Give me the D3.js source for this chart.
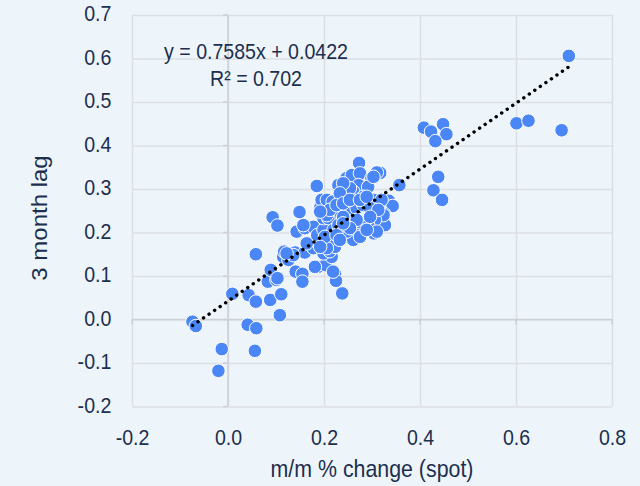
<!DOCTYPE html>
<html>
<head>
<meta charset="utf-8">
<script src="https://cdn.jsdelivr.net/npm/d3@7"></script>
<style>
  html, body { margin: 0; padding: 0; background: #eef5fa; }
  svg { display: block; font-family: "Liberation Sans", Arial, sans-serif; }
  .tick text { fill: #1c2f4f; font-size: 22px; }
  .grid line { stroke: #dcdfe3; stroke-width: 1.5; }
  .grid .domain { display: none; }
</style>
</head>
<body>
<div id="chart"></div>
<script>
'use strict';

// x: m/m % change (spot), y: 3 month lag
const spotChange = [
  0.710, 0.601, 0.626, 0.695, 0.408, 0.423, 0.448, 0.455, 0.432, 0.438,
  0.428, 0.446, 0.357, 0.317, 0.323, 0.335, 0.343, 0.325, 0.327,
  -0.074, -0.067, 0.009, 0.043, 0.058, 0.088, 0.111, 0.108, 0.041, 0.059,
  -0.013, 0.056, -0.020, 0.083, 0.101, 0.058, 0.089, 0.103, 0.115, 0.126,
  0.140, 0.160, 0.141, 0.155, 0.155, 0.187, 0.203, 0.216, 0.223, 0.225,
  0.238, 0.093, 0.103, 0.117, 0.136, 0.149, 0.185, 0.273, 0.176, 0.171,
  0.178, 0.195, 0.199, 0.212,
  0.143, 0.160, 0.178, 0.186, 0.199, 0.199, 0.192, 0.195, 0.206, 0.218,
  0.223, 0.209, 0.220, 0.208, 0.230, 0.233, 0.237, 0.230, 0.247, 0.258,
  0.275, 0.299, 0.310, 0.272, 0.261, 0.292, 0.282, 0.254, 0.244, 0.254,
  0.268, 0.282, 0.303, 0.320, 0.296, 0.310, 0.324, 0.306, 0.292, 0.282,
  0.268, 0.261, 0.247, 0.240, 0.254, 0.268, 0.304, 0.226, 0.223, 0.212,
  0.206, 0.157, 0.202, 0.164, 0.192, 0.226, 0.254, 0.240, 0.206, 0.310,
  0.122, 0.181, 0.219, 0.303, 0.254, 0.240, 0.233, 0.212, 0.192, 0.226,
  0.240, 0.254, 0.275, 0.289, 0.313, 0.296, 0.275, 0.289, 0.233, 0.240
];
const monthLag = [
  0.606, 0.451, 0.457, 0.435, 0.441, 0.432, 0.449, 0.426, 0.410, 0.328,
  0.297, 0.275, 0.309, 0.337, 0.271, 0.273, 0.261, 0.243, 0.217,
  -0.005, -0.015, 0.059, 0.056, 0.041, 0.045, 0.058, 0.010, -0.012, -0.020,
  -0.068, -0.072, -0.118, 0.087, 0.091, 0.150, 0.114, 0.095, 0.144, 0.137,
  0.154, 0.154, 0.110, 0.105, 0.087, 0.121, 0.125, 0.144, 0.105, 0.089,
  0.060, 0.235, 0.216, 0.156, 0.148, 0.247, 0.307, 0.360, 0.211, 0.175,
  0.164, 0.183, 0.152, 0.157,
  0.202, 0.210, 0.213, 0.194, 0.206, 0.233, 0.256, 0.275, 0.275, 0.271,
  0.236, 0.233, 0.206, 0.187, 0.217, 0.263, 0.286, 0.309, 0.325, 0.332,
  0.336, 0.325, 0.338, 0.309, 0.294, 0.305, 0.282, 0.279, 0.267, 0.256,
  0.256, 0.263, 0.275, 0.275, 0.256, 0.240, 0.240, 0.229, 0.217, 0.213,
  0.194, 0.183, 0.202, 0.217, 0.225, 0.229, 0.198, 0.183, 0.167, 0.183,
  0.164, 0.217, 0.190, 0.175, 0.167, 0.194, 0.210, 0.236, 0.240, 0.202,
  0.152, 0.121, 0.110, 0.328, 0.302, 0.313, 0.290, 0.252, 0.248, 0.263,
  0.267, 0.275, 0.275, 0.282, 0.252, 0.236, 0.190, 0.206, 0.183, 0.221
];
const xTicks = [-0.2, 0.0, 0.2, 0.4, 0.6, 0.8];
const yTicks = [-0.2, -0.1, 0.0, 0.1, 0.2, 0.3, 0.4, 0.5, 0.6, 0.7];
const trendSlope = 0.7585;
const trendIntercept = 0.0422;
const trendR2 = 0.702;

const width = 640, height = 486;
const margins = { top: 15, right: 28, bottom: 80, left: 132 };
const textColor = '#1c2f4f';
const squeeze = 0.89; // the reference text is horizontally condensed

const svg = d3.select('#chart').append('svg')
    .attr('width', width)
    .attr('height', height);

svg.append('rect').attr('width', width).attr('height', height).attr('fill', '#eef5fa');

const x = d3.scaleLinear()
    .domain([-0.2, 0.8])
    .range([margins.left, width - margins.right]);
const y = d3.scaleLinear()
    .domain([-0.2, 0.7])
    .range([height - margins.bottom + 0.5, margins.top]);

const fmt = d => d.toFixed(1);

// gridlines
svg.append('g').attr('class', 'grid')
    .attr('transform', `translate(0,${y(-0.2)})`)
    .call(d3.axisBottom(x).tickValues(xTicks).tickSize(-(y(-0.2) - y(0.7))).tickFormat(''));
svg.append('g').attr('class', 'grid')
    .attr('transform', `translate(${x(-0.2)},0)`)
    .call(d3.axisLeft(y).tickValues(yTicks).tickSize(-(x(0.8) - x(-0.2))).tickFormat(''));

// zero axes with small ticks
const axisColor = '#cdd1d6';
svg.append('line')
    .attr('x1', x(0)).attr('x2', x(0))
    .attr('y1', y(0.7)).attr('y2', y(-0.2))
    .attr('stroke', axisColor).attr('stroke-width', 1.5);
svg.append('line')
    .attr('x1', x(-0.2)).attr('x2', x(0.8))
    .attr('y1', y(0)).attr('y2', y(0))
    .attr('stroke', axisColor).attr('stroke-width', 1.5);
svg.selectAll('.ytickmark').data(yTicks).enter().append('line')
    .attr('x1', x(0) - 5).attr('x2', x(0))
    .attr('y1', d => y(d)).attr('y2', d => y(d))
    .attr('stroke', axisColor).attr('stroke-width', 1.5);
svg.selectAll('.xtickmark').data(xTicks).enter().append('line')
    .attr('x1', d => x(d)).attr('x2', d => x(d))
    .attr('y1', y(0)).attr('y2', y(0) + 5)
    .attr('stroke', axisColor).attr('stroke-width', 1.5);

// tick labels
const xAxis = svg.append('g')
    .attr('transform', `translate(0,${y(-0.2) + 20})`)
    .call(d3.axisBottom(x).tickValues(xTicks).tickSize(0).tickFormat(fmt));
xAxis.select('.domain').remove();

const yAxis = svg.append('g')
    .attr('transform', `translate(${x(-0.2) - 18},0)`)
    .call(d3.axisLeft(y).tickValues(yTicks).tickSize(0).tickFormat(fmt));
yAxis.select('.domain').remove();
yAxis.selectAll('.tick text').attr('dy', '0.26em');

svg.selectAll('.tick text')
    .attr('font-family', null)
    .attr('transform', `scale(${squeeze},1)`);

// axis titles
svg.append('text')
    .attr('transform', `translate(${(x(-0.2) + x(0.8)) / 2},477) scale(${squeeze},1)`)
    .attr('text-anchor', 'middle')
    .attr('fill', textColor)
    .style('font-size', '24px')
    .text('m/m % change (spot)');
svg.append('text')
    .attr('transform', `translate(47,218) rotate(-90) scale(1,${squeeze})`)
    .attr('text-anchor', 'middle')
    .attr('fill', textColor)
    .style('font-size', '24px')
    .text('3 month lag');

// points
const points = spotChange.map((v, i) => ({ x: v, y: monthLag[i] }));
svg.append('g').selectAll('circle').data(points)
    .enter().append('circle')
        .attr('cx', d => x(d.x))
        .attr('cy', d => y(d.y))
        .attr('r', 6.8)
        .attr('fill', '#4a86f6')
        .attr('stroke', '#ffffff')
        .attr('stroke-width', 1);

// trend line
const [xMin, xMax] = d3.extent(spotChange);
const trend = [xMin, xMax].map(v => ({ x: v, y: trendSlope * v + trendIntercept }));
svg.append('path')
    .attr('d', d3.line().x(d => x(d.x)).y(d => y(d.y))(trend))
    .attr('fill', 'none')
    .attr('stroke', '#000')
    .attr('stroke-width', 3.4)
    .attr('stroke-linecap', 'round')
    .attr('stroke-dasharray', '0.1 6.6');

// equation
svg.append('text')
    .attr('transform', `translate(256,59) scale(${squeeze},1)`)
    .attr('text-anchor', 'middle')
    .attr('fill', textColor)
    .style('font-size', '22px')
    .text(`y = ${trendSlope}x + ${trendIntercept}`);
svg.append('text')
    .attr('transform', `translate(256,86) scale(${squeeze},1)`)
    .attr('text-anchor', 'middle')
    .attr('fill', textColor)
    .style('font-size', '22px')
    .text(`R² = ${trendR2}`);
</script>
</body>
</html>
